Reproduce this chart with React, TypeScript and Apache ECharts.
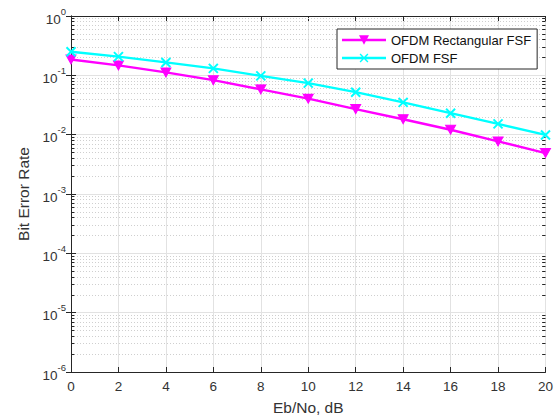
import React, { useEffect, useRef } from "react";
import * as echarts from "echarts";

const ebNo = [0, 2, 4, 6, 8, 10, 12, 14, 16, 18, 20];
const berRectFsf = [0.185, 0.147, 0.112, 0.083, 0.058, 0.0405, 0.027, 0.0182, 0.0121, 0.0077, 0.0049];
const berFsf = [0.25, 0.207, 0.165, 0.131, 0.098, 0.074, 0.052, 0.035, 0.023, 0.0152, 0.0099];
const seriesNames = ["OFDM Rectangular FSF", "OFDM FSF"];
const seriesColors = ["#ff00ff", "#00ffff"];
const decades = [-6, -5, -4, -3, -2, -1];
const minorMultipliers = [2, 3, 4, 5, 6, 7, 8, 9];

const FONT = "'Liberation Sans', Arial, sans-serif";
const INK = "#262626";

const LEGEND_LINE = "M0,3.8H44V6.2H0Z";
const ICON_TRI = "path://" + LEGEND_LINE + "M17,0.3H27L22,9.7Z";
const ICON_X =
  "path://" + LEGEND_LINE + "M17.6,1.6L18.6,0.6L26.4,8.4L25.4,9.4Z M25.4,0.6L26.4,1.6L18.6,9.4L17.6,8.4Z";

export default function App() {
  const ref = useRef<HTMLDivElement>(null);
  useEffect(() => {
    if (!ref.current) return;
    document.body.style.margin = "0";
    const chart = echarts.init(ref.current, undefined, { renderer: "svg" });
    const minorVals: number[] = [];
    decades.forEach((d) => minorMultipliers.forEach((m) => minorVals.push(m * Math.pow(10, d))));
    const minorGrid = minorVals.map((v) => ({ yAxis: v }));
    const minorTicks: any[] = [];
    minorVals.forEach((v) => {
      minorTicks.push([{ coord: [0, v] }, { coord: [0.14, v] }]);
      minorTicks.push([{ coord: [19.86, v] }, { coord: [20, v] }]);
    });
    const supLabel = (v: number) => {
      const e = Math.round(Math.log10(v));
      return `{b|10}{s|${e}}`;
    };
    const rich = {
      b: { fontSize: 13.5, fontFamily: FONT, color: "#333", verticalAlign: "bottom", lineHeight: 20 },
      s: { fontSize: 9.5, fontFamily: FONT, color: "#333", verticalAlign: "top", lineHeight: 20 },
    };
    chart.setOption({
      animation: false,
      backgroundColor: "#fff",
      textStyle: { fontFamily: FONT },
      grid: { left: 71, right: 4, top: 16, bottom: 45, containLabel: false },
      legend: {
        z: 10,
        data: [
          { name: seriesNames[0], icon: ICON_TRI, itemStyle: { color: seriesColors[0], borderWidth: 0 } },
          { name: seriesNames[1], icon: ICON_X, itemStyle: { color: seriesColors[1], borderWidth: 0 } },
        ],
        orient: "vertical",
        left: 337,
        top: 29,
        padding: [4, 6, 4, 5],
        itemGap: 4,
        itemWidth: 44,
        itemHeight: 10,
        borderColor: INK,
        borderWidth: 1,
        borderRadius: 0,
        backgroundColor: "#fff",
        textStyle: { fontSize: 13, color: "#111", fontFamily: FONT, lineHeight: 14 },
      },
      xAxis: [
        {
          type: "value",
          min: 0,
          max: 20,
          interval: 2,
          name: "Eb/No, dB",
          nameLocation: "middle",
          nameGap: 27,
          nameTextStyle: { fontSize: 15.5, color: "#333", fontFamily: FONT },
          axisLine: { show: true, lineStyle: { color: INK, width: 1 } },
          axisTick: { show: true, inside: true, length: 5, lineStyle: { color: INK } },
          axisLabel: { fontSize: 13.5, color: "#333", margin: 7, fontFamily: FONT },
          splitLine: { show: true, lineStyle: { color: "#e2e2e2", width: 1 } },
        },
        {
          type: "value",
          position: "top",
          min: 0,
          max: 20,
          interval: 2,
          axisLine: { show: true, lineStyle: { color: INK, width: 1 } },
          axisTick: { show: true, inside: true, length: 5, lineStyle: { color: INK } },
          axisLabel: { show: false },
          splitLine: { show: false },
        },
      ],
      yAxis: [
        {
          type: "log",
          logBase: 10,
          min: 1e-6,
          max: 1,
          splitNumber: 6,
          name: "Bit Error Rate",
          nameLocation: "middle",
          nameGap: 40,
          nameTextStyle: { fontSize: 15.5, color: "#333", fontFamily: FONT },
          axisLine: { show: true, lineStyle: { color: INK, width: 1 } },
          axisTick: { show: true, inside: true, length: 5, lineStyle: { color: INK } },
          axisLabel: { formatter: supLabel, rich, margin: 5 },
          splitLine: { show: true, lineStyle: { color: "#e2e2e2", width: 1 } },
        },
        {
          type: "log",
          logBase: 10,
          min: 1e-6,
          max: 1,
          splitNumber: 6,
          position: "right",
          axisLine: { show: true, lineStyle: { color: INK, width: 1 } },
          axisTick: { show: true, inside: true, length: 5, lineStyle: { color: INK } },
          axisLabel: { show: false },
          splitLine: { show: false },
        },
      ],
      series: [
        {
          name: seriesNames[0],
          type: "line",
          z: 4,
          data: ebNo.map((x, i) => [x, berRectFsf[i]]),
          lineStyle: { color: seriesColors[0], width: 2.4, type: "solid" },
          itemStyle: { color: seriesColors[0], borderColor: seriesColors[0], borderWidth: 1 },
          color: seriesColors[0],
          symbol: "path://M0,0L10,0L5,9Z",
          symbolSize: [10, 9],
          showAllSymbol: true,
        },
        {
          name: seriesNames[1],
          type: "line",
          z: 4,
          data: ebNo.map((x, i) => [x, berFsf[i]]),
          lineStyle: { color: seriesColors[1], width: 2.4, type: "solid" },
          itemStyle: { color: "none", borderColor: seriesColors[1], borderWidth: 2 },
          color: seriesColors[1],
          symbol: "path://M0,0L10,10M10,0L0,10",
          symbolSize: 9,
          showAllSymbol: true,
        },
        {
          name: "__minor",
          type: "line",
          data: [],
          z: 1,
          silent: true,
          markLine: {
            z: 1,
            silent: true,
            symbol: "none",
            precision: 10,
            label: { show: false },
            lineStyle: { color: "#cfcfcf", type: [1, 2], width: 1 },
            data: minorGrid,
            animation: false,
          },
        },
        {
          name: "__minorTicks",
          type: "line",
          data: [],
          z: 3,
          silent: true,
          markLine: {
            z: 3,
            silent: true,
            symbol: "none",
            precision: 10,
            label: { show: false },
            lineStyle: { color: INK, type: "solid", width: 1 },
            data: minorTicks,
            animation: false,
          },
        },
      ],
    });
    return () => chart.dispose();
  }, []);
  return <div ref={ref} style={{ width: 556, height: 420 }} />;
}
